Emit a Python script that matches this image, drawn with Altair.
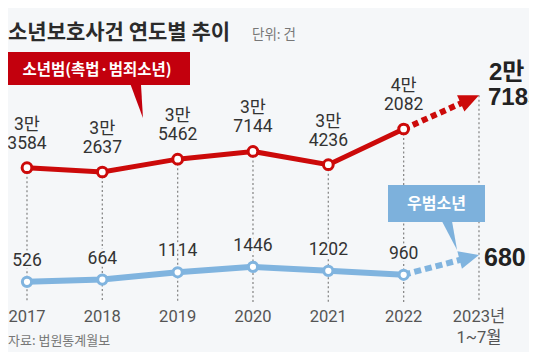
import math
import altair as alt
import pandas as pd

# ---------------- data ----------------
years = [2017, 2018, 2019, 2020, 2021, 2022]
red_values = [33584, 32637, 35462, 37144, 34236, 42082]   # 소년범(촉법·범죄소년)
blue_values = [526, 664, 1114, 1446, 1202, 960]           # 우범소년
partial_year = 2023
red_partial = 27185
blue_partial = 680
year_labels = ["2017", "2018", "2019", "2020", "2021", "2022", "2023년"]
partial_sub_label = "1~7월"
# decorative "rising" arrow tips drawn toward the partial year
red_arrow_tip = 49500
blue_arrow_tip = 2180

title_text = "소년보호사건 연도별 추이"
unit_text = "단위: 건"
source_text = "자료: 법원통계월보"
red_name = "소년범(촉법·범죄소년)"
blue_name = "우범소년"

# ---------------- layout / style ----------------
W, H = 521, 344
X_DOM = [2016.748, 2023.664]
RED_DOM = [-6900, 68660]
BLUE_DOM = [-3776, 17322]
BG = "#f5f7f9"
RED = "#cc0a0a"
RED_BOX = "#c3000d"
BLUE = "#80b4df"
BLUE_BOX = "#7db1dc"
NUM_FONT = "Roboto, Noto Sans CJK KR, sans-serif"
KR_FONT = "Noto Sans CJK KR, sans-serif"
BOLD_NUM_FONT = "Liberation Sans, Noto Sans CJK KR, sans-serif"
NUM_SIZE = 17.5
YEAR_SIZE = 16.5

xs = alt.Scale(domain=X_DOM, nice=False, zero=False)
ys_red = alt.Scale(domain=RED_DOM, nice=False, zero=False)
ys_blue = alt.Scale(domain=BLUE_DOM, nice=False, zero=False)


def px(yr):
    return (yr - X_DOM[0]) / (X_DOM[1] - X_DOM[0]) * W


def py(v, dom):
    return (dom[1] - v) / (dom[1] - dom[0]) * H


def split_man(v):
    return f"{v // 10000}만", f"{v % 10000:04d}"


X = alt.X("year:Q", scale=xs, axis=None)
YR = alt.Y("v:Q", scale=ys_red, axis=None)
YB = alt.Y("v:Q", scale=ys_blue, axis=None)

red_df = pd.DataFrame({
    "year": years, "v": red_values,
    "man": [split_man(v)[0] for v in red_values],
    "rest": [split_man(v)[1] for v in red_values],
})
blue_df = pd.DataFrame({"year": years, "v": blue_values,
                        "lab": [str(v) for v in blue_values]})

one = pd.DataFrame({"a": [0]})

# vertical dotted guides
rule_df = pd.DataFrame({"year": years + [partial_year],
                        "v": red_values + [red_arrow_tip]})
rules = alt.Chart(rule_df).mark_rule(color="#8a8a8a", strokeWidth=1.3,
                                     strokeDash=[2, 2.5]).encode(
    x=X, y=YR, y2=alt.value(294))


def arrow_parts(v_from, v_tip, dom, color, width, dash):
    x0, y0 = px(years[-1]), py(v_from, dom)
    x1, y1 = px(partial_year), py(v_tip, dom)
    L = math.hypot(x1 - x0, y1 - y0)
    frac = (L - 15) / L
    seg = pd.DataFrame({
        "year": [years[-1], years[-1] + frac * (partial_year - years[-1])],
        "v": [v_from, v_from + frac * (v_tip - v_from)],
    })
    ang = math.degrees(math.atan2(y1 - y0, x1 - x0)) % 360
    ys = alt.Scale(domain=dom, nice=False, zero=False)
    line = alt.Chart(seg).mark_line(color=color, strokeWidth=width,
                                    strokeDash=dash).encode(
        x=X, y=alt.Y("v:Q", scale=ys, axis=None))
    head = alt.Chart(pd.DataFrame({"year": [partial_year], "v": [v_tip]})).mark_point(
        shape="M 0 0 L -2 -0.9 L -2 0.9 Z", size=400, filled=True, fill=color,
        strokeWidth=0, opacity=1, angle=ang).encode(
        x=X, y=alt.Y("v:Q", scale=ys, axis=None))
    return line, head


red_arrow_line, red_arrow_head = arrow_parts(red_values[-1], red_arrow_tip, RED_DOM,
                                             RED, 6, [6, 4])
blue_arrow_line, blue_arrow_head = arrow_parts(blue_values[-1], blue_arrow_tip, BLUE_DOM,
                                               BLUE, 6, [7, 4])

red_line = alt.Chart(red_df).mark_line(color=RED, strokeWidth=5).encode(x=X, y=YR)
blue_line = alt.Chart(blue_df).mark_line(color=BLUE, strokeWidth=6).encode(x=X, y=YB)

red_pts = alt.Chart(red_df).mark_point(shape="circle", filled=True, fill="white",
                                       stroke=RED, strokeWidth=3, size=95,
                                       opacity=1).encode(x=X, y=YR)
blue_pts = alt.Chart(blue_df).mark_point(shape="circle", filled=True, fill="white",
                                         stroke=BLUE, strokeWidth=3, size=85,
                                         opacity=1).encode(x=X, y=YB)

red_lab1 = alt.Chart(red_df).mark_text(font=NUM_FONT, fontSize=NUM_SIZE, color="#333",
                                       baseline="middle", dy=-43).encode(
    x=X, y=YR, text="man:N")
red_lab2 = alt.Chart(red_df).mark_text(font=NUM_FONT, fontSize=NUM_SIZE, color="#333",
                                       baseline="middle", dy=-24).encode(
    x=X, y=YR, text="rest:N")
blue_halo = alt.Chart(blue_df).mark_text(font=NUM_FONT, fontSize=NUM_SIZE, color=BG,
                                         stroke=BG, strokeWidth=5,
                                         baseline="middle", dy=-21).encode(
    x=X, y=YB, text="lab:N")
blue_lab = alt.Chart(blue_df).mark_text(font=NUM_FONT, fontSize=NUM_SIZE, color="#333",
                                        baseline="middle", dy=-21).encode(
    x=X, y=YB, text="lab:N")

# partial-year (2023) figures
rp1, rp2 = split_man(red_partial)
red_part1 = alt.Chart(pd.DataFrame({"year": [partial_year], "v": [red_arrow_tip],
                                    "t": [rp1]})).mark_text(
    font=BOLD_NUM_FONT, fontSize=24, fontWeight="bold", color="#222",
    align="left", baseline="middle", dx=10, dy=-22).encode(x=X, y=YR, text="t:N")
red_part2 = alt.Chart(pd.DataFrame({"year": [partial_year], "v": [red_arrow_tip],
                                    "t": [rp2]})).mark_text(
    font=BOLD_NUM_FONT, fontSize=24, fontWeight="bold", color="#222",
    align="left", baseline="middle", dx=9, dy=3).encode(x=X, y=YR, text="t:N")
blue_part = alt.Chart(pd.DataFrame({"year": [partial_year], "v": [blue_arrow_tip],
                                    "t": [str(blue_partial)]})).mark_text(
    font=BOLD_NUM_FONT, fontSize=25, fontWeight="bold", color="#222",
    align="left", baseline="middle", dx=5, dy=3).encode(
    x=X, y=alt.Y("v:Q", scale=ys_blue, axis=None), text="t:N")

# year labels
ylab_df = pd.DataFrame({"year": years + [partial_year], "lab": year_labels})
year_text = alt.Chart(ylab_df).mark_text(font=NUM_FONT, fontSize=YEAR_SIZE, color="#555",
                                         baseline="middle").encode(
    x=X, y=alt.value(309), text="lab:N")
sub_text = alt.Chart(pd.DataFrame({"year": [partial_year], "lab": [partial_sub_label]})).mark_text(
    font=NUM_FONT, fontSize=YEAR_SIZE, color="#555", baseline="middle").encode(
    x=X, y=alt.value(330), text="lab:N")

# callouts
red_box = alt.Chart(one).mark_rect(color=RED_BOX).encode(
    x=alt.value(0), x2=alt.value(182), y=alt.value(44), y2=alt.value(77))
red_tail = alt.Chart(one).mark_point(
    shape="M -0.38 -1.05 L 0.26 -1.05 L 0.38 1 Z", size=1156, filled=True,
    fill=RED_BOX, strokeWidth=0, opacity=1).encode(x=alt.value(128.5), y=alt.value(93))
red_box_text = alt.Chart(pd.DataFrame({"t": [red_name]})).mark_text(
    font=KR_FONT, fontSize=15.5, fontWeight="bold", color="white",
    baseline="middle").encode(x=alt.value(89), y=alt.value(61.5), text="t:N")

blue_box = alt.Chart(one).mark_rect(color=BLUE_BOX).encode(
    x=alt.value(380), x2=alt.value(477), y=alt.value(177), y2=alt.value(214))
blue_tail = alt.Chart(one).mark_point(
    shape="M -0.54 -1.05 L 0.18 -1.05 L 0.54 1 Z", size=784, filled=True,
    fill=BLUE_BOX, strokeWidth=0, opacity=1).encode(x=alt.value(441.5), y=alt.value(228))
blue_box_text = alt.Chart(pd.DataFrame({"t": [blue_name]})).mark_text(
    font=KR_FONT, fontSize=16, fontWeight="bold", color="white",
    baseline="middle").encode(x=alt.value(428.5), y=alt.value(195.5), text="t:N")

# titles
title = alt.Chart(pd.DataFrame({"t": [title_text]})).mark_text(
    font=KR_FONT, fontSize=21, fontWeight="bold", color="#2b2b2b",
    align="left", baseline="middle").encode(x=alt.value(0), y=alt.value(25), text="t:N")
unit = alt.Chart(pd.DataFrame({"t": [unit_text]})).mark_text(
    font=KR_FONT, fontSize=13.5, color="#777",
    align="left", baseline="middle").encode(x=alt.value(244), y=alt.value(27), text="t:N")
source = alt.Chart(pd.DataFrame({"t": [source_text]})).mark_text(
    font=KR_FONT, fontSize=13, color="#777",
    align="left", baseline="middle").encode(x=alt.value(0), y=alt.value(333), text="t:N")

chart = alt.layer(
    rules,
    red_arrow_line, blue_arrow_line,
    red_line, blue_line,
    red_arrow_head, blue_arrow_head,
    red_pts, blue_pts,
    red_lab1, red_lab2, blue_halo, blue_lab,
    red_part1, red_part2, blue_part,
    year_text, sub_text,
    red_box, red_tail, red_box_text,
    blue_box, blue_tail, blue_box_text,
    title, unit, source,
).resolve_scale(y="independent").properties(
    width=W, height=H, background=BG, padding=0, autosize="none"
).configure_view(stroke="transparent")

chart.save("out.html", embed_options={"renderer": "svg", "actions": False})
